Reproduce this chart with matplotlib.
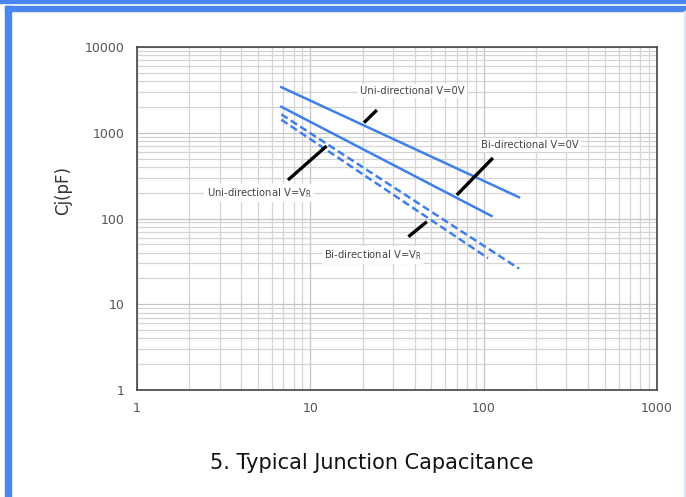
import matplotlib.pyplot as plt
from matplotlib.patches import Rectangle

# curve end points (Vbr in V, Cj in pF)
uni_0v_x = [6.8, 160]
uni_0v_y = [3400, 177]
uni_vr_x = [6.8, 111]
uni_vr_y = [2010, 107]
bi_0v_x = [6.8, 160]
bi_0v_y = [1640, 26]
bi_vr_x = [6.8, 106]
bi_vr_y = [1420, 34.5]

x_ticks = [1, 10, 100, 1000]
y_ticks = [1, 10, 100, 1000, 10000]

BLUE = "#3f7fe8"

fig = plt.figure(figsize=(6.86, 4.97), dpi=100)

# card border of the screenshot
fig.patches.append(Rectangle((0, 1 - 3 / 497), 1, 3 / 497, transform=fig.transFigure,
                             color="#4a86f0", zorder=0))
fig.patches.append(Rectangle((5 / 686, 1 - 11 / 497), 1, 5 / 497, transform=fig.transFigure,
                             color="#4a86f0", zorder=0))
fig.patches.append(Rectangle((5 / 686, 0), 6 / 686, 1 - 6 / 497, transform=fig.transFigure,
                             color="#4a86f0", zorder=0))
fig.patches.append(Rectangle((684 / 686, 0), 1.5 / 686, 1 - 11 / 497, transform=fig.transFigure,
                             color="#dde6f5", zorder=0))

ax = fig.add_axes([137 / 686, 1 - 390 / 497, 520 / 686, 343 / 497])
ax.set_xscale("log")
ax.set_yscale("log")
ax.set_xlim(1, 1000)
ax.set_ylim(1, 10000)

ax.grid(which="major", color="#c4c4c4", lw=0.9)
ax.grid(which="minor", color="#d4d4d4", lw=0.9)
ax.set_axisbelow(True)
for s in ax.spines.values():
    s.set_color("#444444")
    s.set_linewidth(1.2)

ax.set_xticks(x_ticks)
ax.set_xticklabels([str(v) for v in x_ticks])
ax.set_yticks(y_ticks)
ax.set_yticklabels([str(v) for v in y_ticks])
ax.tick_params(which="both", length=0)
ax.tick_params(axis="x", pad=9, labelsize=9, labelcolor="#555555")
ax.tick_params(axis="y", pad=9, labelsize=9, labelcolor="#555555")

ax.plot(uni_0v_x, uni_0v_y, color=BLUE, lw=1.8)
ax.plot(uni_vr_x, uni_vr_y, color=BLUE, lw=1.8)
ax.plot(bi_0v_x, bi_0v_y, color=BLUE, lw=1.8, ls=(0, (3, 1.5)))
ax.plot(bi_vr_x, bi_vr_y, color=BLUE, lw=1.8, ls=(0, (3, 1.5)))

box = dict(facecolor="white", edgecolor="none", pad=1.5)
txt = dict(fontsize=8, color="#444444", family="DejaVu Sans", fontstretch="condensed",
           ha="center", va="center", bbox=box)
arrow = dict(color="black", lw=2.4, solid_capstyle="butt")

ax.text(39, 3070, "Uni-directional V=0V", **txt)
ax.plot([24.2, 20.4], [1840, 1310], **arrow)

ax.text(185, 720, "Bi-directional V=0V", **txt)
ax.plot([113, 70], [508, 188], **arrow)

ax.text(5.06, 198, "Uni-directional V=V$_{\\mathregular{R}}$", **txt)
ax.plot([7.43, 12.4], [281, 700], **arrow)

ax.text(23, 37.5, "Bi-directional V=V$_{\\mathregular{R}}$", **txt)
ax.plot([36.8, 47], [61.3, 91.8], **arrow)

ax.set_ylabel("Cj(pF)", fontsize=12, color="#333333")
ax.yaxis.set_label_coords(-0.125, 0.583)

fig.text(372 / 686, 1 - 463 / 497, "5. Typical Junction Capacitance", fontsize=15,
         ha="center", va="center", color="#111111")

fig.savefig("out.png", dpi=100)
